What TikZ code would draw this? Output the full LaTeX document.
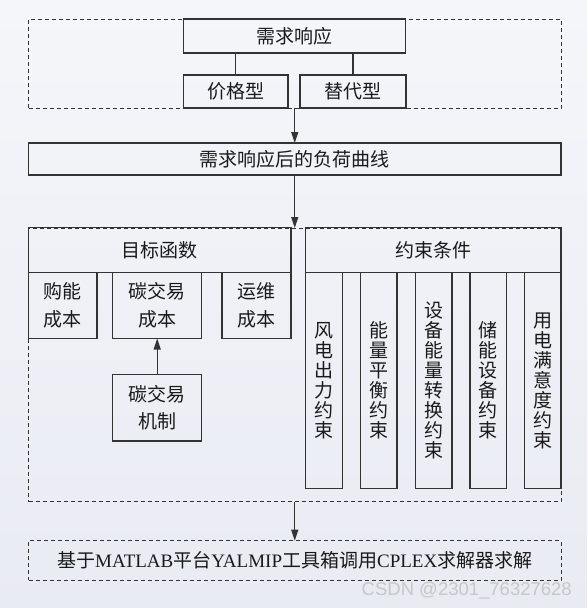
\documentclass[tikz,border=0pt]{standalone}
\usepackage{fontspec}
\setmainfont{Noto Sans CJK SC}
\newfontfamily\latfont{Liberation Serif}
\newfontfamily\wmfont{Liberation Sans}
\usetikzlibrary{arrows.meta}
\definecolor{linec}{HTML}{333333}
\definecolor{textc}{HTML}{1A1A1A}
\definecolor{bgtop}{HTML}{F5F6FA}
\definecolor{bgbot}{HTML}{E9EBF3}
\tikzset{
  boxbase/.style={anchor=north west, inner sep=0pt, outer sep=0pt, align=center, text=textc},
  sbox/.style={boxbase, draw=linec, line width=1.2pt, font=\fontsize{19}{27.5}\selectfont},
  vbox/.style={boxbase, draw=linec, line width=1.2pt, font=\fontsize{19}{20}\selectfont},
  dbox/.style={boxbase, draw=linec, line width=1pt, dash pattern=on 4pt off 3pt, font=\fontsize{19}{27.5}\selectfont},
  arr/.style={draw=linec, line width=1.2pt, -{Triangle[length=11pt,width=7pt]}},
  conn/.style={draw=linec, line width=1.2pt}
}
\begin{document}
\begin{tikzpicture}[x=1pt,y=-1pt]
\useasboundingbox (0,0) rectangle (587,608);
\shade[top color=bgtop, bottom color=bgbot] (0,0) rectangle (587,608);
% dashed groups
\node[dbox, minimum width=532.5pt, minimum height=89pt] (grp1) at (28.5,19) {};
\node[dbox, minimum width=532.5pt, minimum height=273.5pt] (grp2) at (28.5,228) {};
% top part
\node[sbox, minimum width=222pt, minimum height=34pt] (dr) at (183.5,19) {需求响应};
\node[sbox, minimum width=104.5pt, minimum height=33pt] (jg) at (183.5,75) {价格型};
\node[sbox, minimum width=106pt, minimum height=33pt] (td) at (300,75) {替代型};
\draw[conn] (jg.north) -- (jg.north |- dr.south);
\draw[conn] (td.north) -- (td.north |- dr.south);
% load curve
\node[sbox, minimum width=532.5pt, minimum height=32pt] (load) at (28.5,143) {需求响应后的负荷曲线};
\draw[arr] (grp1.south) -- (load.north);
\draw[arr] (load.south) -- (grp2.north);
% objective
\node[sbox, minimum width=262.5pt, minimum height=45pt] (obj) at (28.5,227.5) {目标函数};
\node[sbox, minimum width=68.5pt, minimum height=66pt] (c1) at (28.5,272.5) {购能\\成本};
\node[sbox, minimum width=89pt, minimum height=66pt] (c2) at (112.7,272.5) {碳交易\\成本};
\node[sbox, minimum width=69pt, minimum height=66pt] (c3) at (222,272.5) {运维\\成本};
\node[sbox, minimum width=89pt, minimum height=66.5pt] (mech) at (112.7,374.5) {碳交易\\机制};
\draw[arr] (mech.north) -- (c2.south);
% constraints
\node[sbox, minimum width=255.3pt, minimum height=45pt] (cons) at (305.7,227.5) {约束条件};
\node[vbox, minimum width=36.7pt, minimum height=216.3pt] (k1) at (305.7,272.5) {风\\电\\出\\力\\约\\束};
\node[vbox, minimum width=36.7pt, minimum height=216.3pt] (k2) at (360.3,272.5) {能\\量\\平\\衡\\约\\束};
\node[vbox, minimum width=36.7pt, minimum height=216.3pt] (k3) at (415.3,272.5) {设\\备\\能\\量\\转\\换\\约\\束};
\node[vbox, minimum width=36.7pt, minimum height=216.3pt] (k4) at (470,272.5) {储\\能\\设\\备\\约\\束};
\node[vbox, minimum width=36.3pt, minimum height=216.3pt] (k5) at (524.7,272.5) {用\\电\\满\\意\\度\\约\\束};
% solver
\node[dbox, minimum width=532.5pt, minimum height=39.5pt] (sol) at (28.5,540.7) {基于{\latfont MATLAB}平台{\latfont YALMIP}工具箱调用{\latfont CPLEX}求解器求解};
\draw[arr] (grp2.south) -- (sol.north);
% watermark
\node[anchor=east, inner sep=0pt, text=black!22, font=\wmfont\fontsize{18.5}{20}\selectfont] (wm) at (572,591) {CSDN @2301\_76327628};
\end{tikzpicture}
\end{document}
